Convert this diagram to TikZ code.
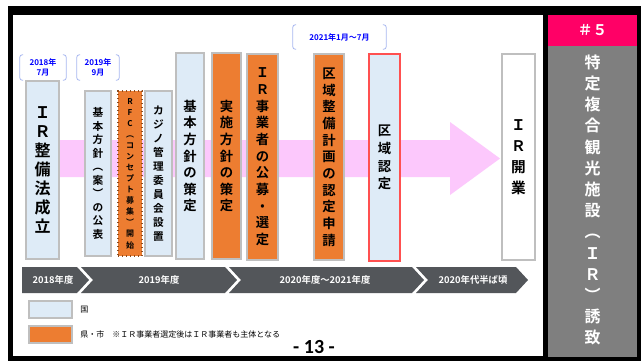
\documentclass[tikz,border=0pt]{standalone}
\usepackage{fontspec}
\setmainfont{Noto Sans CJK JP}[BoldFont={Noto Sans CJK JP Bold}]
\newfontfamily\pagefont{Carlito}
\usepackage{tikz}
\usetikzlibrary{positioning}
\definecolor{kunifill}{HTML}{DEEBF7}
\definecolor{kenfill}{HTML}{ED7D31}
\definecolor{edgegray}{HTML}{BFBFBF}
\definecolor{arrowpink}{HTML}{FCC8FC}
\definecolor{bargray}{HTML}{53565A}
\definecolor{titlegray}{HTML}{7F7F7F}
\definecolor{titlepink}{HTML}{FF0066}
\definecolor{datablue}{HTML}{0000FF}
\definecolor{bracketblue}{HTML}{A8B8F0}
\definecolor{redline}{HTML}{FF5050}
\newcommand{\fs}[2]{\fontsize{#1}{#2}\selectfont}
\tikzset{
  kuni/.style={draw=edgegray, fill=kunifill, line width=1pt, inner sep=0pt, align=center},
  ken/.style={draw=edgegray, fill=kenfill, line width=1pt, inner sep=0pt, align=center},
  span/.style={text=white, font=\bfseries\fs{7}{8}},
  date/.style={text=datablue, font=\bfseries\fs{6}{7}, align=center, inner sep=0pt},
  bracket/.style={draw=bracketblue, line width=0.6pt, rounded corners=2pt},
  legend/.style={anchor=west, inner sep=0pt, font=\fs{6}{7}}
}

\begin{document}
\begin{tikzpicture}[x=0.75pt, y=-0.75pt]
\useasboundingbox (0,0) rectangle (642,362);
\fill[black] (8,6) rectangle (641,361);
\fill[white] (13,15) rectangle (543,356);
\fill[titlepink] (548,15) rectangle (637,46);
\fill[titlegray] (548,46) rectangle (637,357);
\node[text=white, font=\bfseries\fs{11}{13}] (no) at (592.5,30.5) {＃５};
\node[text=white, align=center, font=\bfseries\fs{12}{15.9}] (theme) at (592.5,200) {特\\定\\複\\合\\観\\光\\施\\設\\︵\\Ｉ\\Ｒ\\︶\\誘\\致};

\fill[arrowpink] (30,140) -- (450,140) -- (450,122) -- (500,158.5) -- (450,195) -- (450,177) -- (30,177) -- cycle;

\node[kuni, minimum width=24.75pt, minimum height=133.5pt, font=\bfseries\fs{12}{14.25}] (hou) at (42.5,170) {Ｉ\\Ｒ\\整\\備\\法\\成\\立};
\node[kuni, minimum width=19.5pt, minimum height=123.75pt, font=\bfseries\fs{8}{10.1}] (an) at (98,173.5) {基\\本\\方\\針\\︵\\案\\︶\\の\\公\\表};
\node[ken, draw=kenfill!60!black, dotted, minimum width=18pt, minimum height=123.75pt, font=\bfseries\fs{6}{8.3}] (rfc) at (130,173.5) {R\\F\\C\\︵\\コ\\ン\\セ\\プ\\ト\\募\\集\\︶\\開\\始};
\node[kuni, minimum width=20.25pt, minimum height=123.75pt, font=\bfseries\fs{8}{10.5}] (iinkai) at (158.5,173.5) {カ\\ジ\\ノ\\管\\理\\委\\員\\会\\設\\置};
\node[kuni, minimum width=21pt, minimum height=154.5pt, font=\bfseries\fs{10}{12.4}] (houshin) at (190,156) {基\\本\\方\\針\\の\\策\\定};
\node[ken, minimum width=21.75pt, minimum height=154.5pt, font=\bfseries\fs{10}{12.4}] (jisshi) at (226.5,156) {実\\施\\方\\針\\の\\策\\定};
\node[ken, minimum width=23.25pt, minimum height=154.5pt, font=\bfseries\fs{10}{12.5}] (koubo) at (262.5,157) {Ｉ\\Ｒ\\事\\業\\者\\の\\公\\募\\・\\選\\定};
\node[ken, minimum width=22.5pt, minimum height=154.5pt, font=\bfseries\fs{10}{12.5}] (shinsei) at (329,157) {区\\域\\整\\備\\計\\画\\の\\認\\定\\申\\請};
\node[kuni, draw=redline, line width=1.5pt, minimum width=23.25pt, minimum height=155.25pt, font=\bfseries\fs{10}{13.3}] (nintei) at (384.5,157.5) {区\\域\\認\\定};
\node[kuni, fill=white, minimum width=24.75pt, minimum height=154.5pt, font=\bfseries\fs{11}{15.75}] (kaigyou) at (518.5,157) {Ｉ\\Ｒ\\開\\業};

\node[date, minimum width=34.5pt, minimum height=18.75pt] (d18) at (43,67.5) {2018年\\7月};
\node[date, minimum width=31.5pt, minimum height=18.75pt] (d19) at (98,67.5) {2019年\\9月};
\node[date, minimum width=69.75pt, minimum height=18pt] (d21) at (339.5,37) {2021年1月～7月};
\draw[bracket] ([xshift=2.5pt]d18.north west) -- (d18.north west) -- (d18.south west) -- ([xshift=2.5pt]d18.south west);
\draw[bracket] ([xshift=-2.5pt]d18.north east) -- (d18.north east) -- (d18.south east) -- ([xshift=-2.5pt]d18.south east);
\draw[bracket] ([xshift=2.5pt]d19.north west) -- (d19.north west) -- (d19.south west) -- ([xshift=2.5pt]d19.south west);
\draw[bracket] ([xshift=-2.5pt]d19.north east) -- (d19.north east) -- (d19.south east) -- ([xshift=-2.5pt]d19.south east);
\draw[bracket] ([xshift=2.5pt]d21.north west) -- (d21.north west) -- (d21.south west) -- ([xshift=2.5pt]d21.south west);
\draw[bracket] ([xshift=-2.5pt]d21.north east) -- (d21.north east) -- (d21.south east) -- ([xshift=-2.5pt]d21.south east);

\fill[bargray] (22,267) -- (77,267) -- (89,280) -- (77,293) -- (22,293) -- cycle;
\fill[bargray] (81,267) -- (225,267) -- (237,280) -- (225,293) -- (81,293) -- (93,280) -- cycle;
\fill[bargray] (229,267) -- (412,267) -- (424,280) -- (412,293) -- (229,293) -- (241,280) -- cycle;
\fill[bargray] (416,267) -- (516,267) -- (528,280) -- (516,293) -- (416,293) -- (428,280) -- cycle;
\node[span] (y18) at (53,280) {2018年度};
\node[span] (y19) at (159,280) {2019年度};
\node[span] (y20) at (325,280) {2020年度～2021年度};
\node[span] (y2x) at (473,280) {2020年代半ば頃};

\node[kuni, minimum width=32.25pt, minimum height=12.75pt] (kkey) at (50.5,309.5) {};
\node[ken, minimum width=32.25pt, minimum height=12.75pt] (ckey) at (50.5,334.5) {};
\node[legend] (klab) at (80,310) {国};
\node[legend] (clab) at (80,334.5) {県・市　※ＩＲ事業者選定後はＩＲ事業者も主体となる};
\node[font=\pagefont\bfseries\fs{15}{17}] (page) at (314,347) {- 13 -};
\end{tikzpicture}
\end{document}
